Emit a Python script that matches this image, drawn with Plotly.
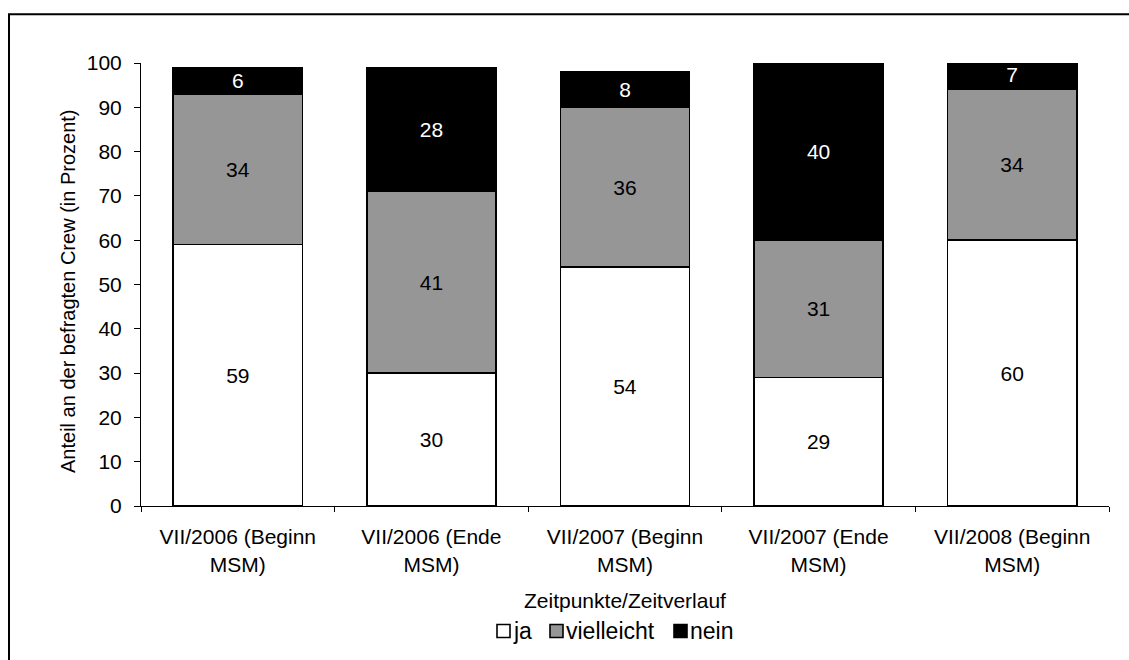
import plotly.graph_objects as go

# Survey answers per time point (percent of crew questioned)
categories = [
    "VII/2006 (Beginn<br>MSM)",
    "VII/2006 (Ende<br>MSM)",
    "VII/2007 (Beginn<br>MSM)",
    "VII/2007 (Ende<br>MSM)",
    "VII/2008 (Beginn<br>MSM)",
]
ja = [59, 30, 54, 29, 60]
vielleicht = [34, 41, 36, 31, 34]
nein = [6, 28, 8, 40, 7]

y_ticks = list(range(0, 101, 10))

FONT = "Liberation Sans, Arial, sans-serif"
FS = 21

series = [
    ("ja", ja, "#FFFFFF", "#000000"),
    ("vielleicht", vielleicht, "#969696", "#000000"),
    ("nein", nein, "#000000", "#FFFFFF"),
]

# plot area in pixels, used to place the frame and the key below the axis
W, H = 1129, 660
ML, MR, MT, MB = 141, 20, 63, 154
PW, PH = W - ML - MR, H - MT - MB


def px_x(px):
    return (px - ML) / PW


def px_y(py):
    return (H - MB - py) / PH


fig = go.Figure()
for name, vals, fill, txt in series:
    fig.add_trace(go.Bar(
        name=name,
        x=categories,
        y=vals,
        text=[str(v) for v in vals],
        textposition="inside",
        insidetextanchor="middle",
        textangle=0,
        constraintext="none",
        textfont=dict(family=FONT, size=FS, color=txt),
        marker=dict(color=fill, line=dict(color="#000000", width=1.6)),
        hoverinfo="skip",
        showlegend=False,
    ))

# key: small outlined squares followed by the series names
key_boxes = [497, 550, 674]
key_y = 631
shapes = [
    dict(type="rect", xref="paper", yref="paper",
         x0=px_x(9), x1=1.3, y0=-0.6, y1=px_y(14.3),
         line=dict(color="#000000", width=2), fillcolor="rgba(0,0,0,0)",
         layer="below"),
]
annotations = [
    dict(text="Zeitpunkte/Zeitverlauf", xref="paper", yref="paper",
         x=0.5, y=px_y(600), xanchor="center", yanchor="middle",
         showarrow=False, font=dict(family=FONT, size=FS, color="#000000")),
    dict(text="Anteil an der befragten Crew (in Prozent)", xref="paper", yref="paper",
         x=px_x(68), y=px_y(291), xanchor="center", yanchor="middle", textangle=-90,
         showarrow=False, font=dict(family=FONT, size=20, color="#000000")),
]
for (name, _, fill, _), bx in zip(series, key_boxes):
    shapes.append(dict(type="rect", xref="paper", yref="paper",
                       x0=px_x(bx), x1=px_x(bx + 13),
                       y0=px_y(key_y + 6.5), y1=px_y(key_y - 6.5),
                       line=dict(color="#000000", width=1.6), fillcolor=fill))
    annotations.append(dict(text=name, xref="paper", yref="paper",
                            x=px_x(bx + 14), y=px_y(key_y), xanchor="left", yanchor="middle",
                            showarrow=False,
                            font=dict(family=FONT, size=23, color="#000000")))

fig.update_layout(
    barmode="stack",
    bargap=0.333,
    width=W,
    height=H,
    margin=dict(l=ML, r=MR, t=MT, b=MB, autoexpand=False),
    paper_bgcolor="#FFFFFF",
    plot_bgcolor="#FFFFFF",
    font=dict(family=FONT, size=FS, color="#000000"),
    showlegend=False,
    xaxis=dict(
        type="category",
        showline=True, linecolor="#000000", linewidth=1,
        ticks="outside", tickson="boundaries", ticklen=5, tickcolor="#000000",
        ticklabelstandoff=12,
        tickfont=dict(family=FONT, size=FS, color="#000000"),
        showgrid=False, zeroline=False,
    ),
    yaxis=dict(
        range=[0, 100],
        tickvals=y_ticks,
        showline=True, linecolor="#000000", linewidth=1,
        ticks="outside", ticklen=6, tickcolor="#000000",
        ticklabelstandoff=8,
        tickfont=dict(family=FONT, size=FS, color="#000000"),
        showgrid=False, zeroline=False,
    ),
    annotations=annotations,
    shapes=shapes,
)

fig.write_html("out.html")
